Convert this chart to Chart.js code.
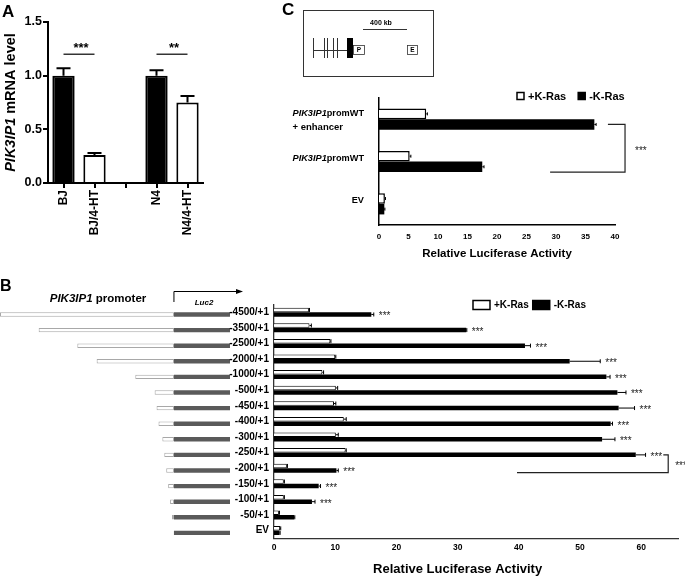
<!DOCTYPE html>
<html>
<head>
<meta charset="utf-8">
<script src="https://cdn.jsdelivr.net/npm/chart.js@4.4.0/dist/chart.umd.min.js"></script>
<style>
  body { margin: 0; background: #fff; width: 685px; height: 576px; overflow: hidden; position: relative; }
  canvas { position: absolute; left: 0; top: 0; }
</style>
</head>
<body>
<canvas id="chartA" width="685" height="576"></canvas>
<canvas id="chartC" width="685" height="576"></canvas>
<canvas id="chartSchematic" width="685" height="576"></canvas>
<canvas id="chartB" width="685" height="576"></canvas>
<script>
// ---- Panel A : PIK3IP1 mRNA level
const mrnaLabels = ['BJ', 'BJ/4-HT', '', 'N4', 'N4/4-HT'];
const mrnaValues = [1.0, 0.26, null, 1.0, 0.75];
const mrnaErrors = [0.07, 0.02, null, 0.05, 0.06];
const mrnaColors = ['#000', '#fff', '#fff', '#000', '#fff'];

// ---- Panel C : promoter + enhancer
const enhancerLabels = [['PIK3IP1promWT', '+ enhancer'], ['PIK3IP1promWT'], ['EV']];
const enhancerPlusRas = [8.0, 5.2, 1.0];
const enhancerPlusRasErr = [0.2, 0.2, 0.1];
const enhancerMinusRas = [36.5, 17.5, 0.9];
const enhancerMinusRasErr = [0.3, 0.3, 0.1];

// ---- Panel B : promoter deletions
const constructLabels = ['-4500/+1', '-3500/+1', '-2500/+1', '-2000/+1', '-1000/+1', '-500/+1', '-450/+1',
  '-400/+1', '-300/+1', '-250/+1', '-200/+1', '-150/+1', '-100/+1', '-50/+1', 'EV'];
const promoterStarts = [-4500, -3500, -2500, -2000, -1000, -500, -450, -400, -300, -250, -200, -150, -100, -50, null];
const luc2Length = 1450;
const plusRas = [5.7, 5.8, 9.2, 10.0, 7.9, 10.1, 9.8, 11.4, 10.1, 11.7, 2.1, 1.6, 1.6, 0.8, 1.0];
const plusRasErr = [0.1, 0.3, 0.1, 0.1, 0.2, 0.3, 0.3, 0.4, 0.4, 0.1, 0.1, 0.1, 0.1, 0.1, 0.1];
const minusRas = [15.9, 31.4, 41.0, 48.3, 54.3, 56.1, 56.3, 55.0, 53.6, 59.1, 10.2, 7.3, 6.2, 3.3, 0.9];
const minusRasErr = [0.4, 0.1, 0.9, 5.0, 0.6, 1.4, 2.6, 0.3, 2.1, 1.6, 0.3, 0.3, 0.5, 0.1, 0.1];
const starLabels = ['***', '***', '***', '***', '***', '***', '***', '***', '***', '***', '***', '***', '***', '', ''];

const FONT = '"Liberation Sans", Arial, Helvetica, sans-serif';
Chart.defaults.font.family = FONT;
Chart.defaults.font.weight = 'bold';
Chart.defaults.color = '#000';
Chart.defaults.animation = false;
Chart.defaults.responsive = false;
Chart.defaults.plugins.legend.display = false;
Chart.defaults.plugins.tooltip.enabled = false;

// texte avec une partie en italique (nom du gène)
function geneParts(text) {
  return text.startsWith('PIK3IP1') ? [['PIK3IP1', true], [text.slice(7), false]] : [[text, false]];
}
function drawRich(ctx, parts, x, y, align, size) {
  const fonts = parts.map(p => (p[1] ? 'italic ' : '') + 'bold ' + size + 'px ' + FONT);
  let total = 0;
  const widths = parts.map((p, i) => {
    ctx.font = fonts[i];
    const w = ctx.measureText(p[0]).width;
    total += w;
    return w;
  });
  let cx = align === 'right' ? x - total : align === 'center' ? x - total / 2 : x;
  ctx.textAlign = 'left';
  parts.forEach((p, i) => {
    ctx.font = fonts[i];
    ctx.fillText(p[0], cx, y);
    cx += widths[i];
  });
  return total;
}

// barres d'erreur (un seul côté)
const errorBars = {
  id: 'errorBars',
  afterDatasetsDraw(chart, args, opts) {
    const ctx = chart.ctx;
    const horiz = chart.options.indexAxis === 'y';
    const scale = horiz ? chart.scales.x : chart.scales.y;
    ctx.save();
    ctx.strokeStyle = '#000';
    ctx.lineWidth = opts.lineWidth || 1;
    chart.data.datasets.forEach((ds, i) => {
      if (!ds.errors) return;
      chart.getDatasetMeta(i).data.forEach((bar, j) => {
        const v = ds.data[j], e = ds.errors[j];
        if (v == null || !e) return;
        const a = scale.getPixelForValue(v), b = scale.getPixelForValue(v + e);
        const c = opts.cap / 2;
        ctx.beginPath();
        if (horiz) {
          ctx.moveTo(a, bar.y); ctx.lineTo(b, bar.y);
          ctx.moveTo(b, bar.y - c); ctx.lineTo(b, bar.y + c);
        } else {
          ctx.moveTo(bar.x, a); ctx.lineTo(bar.x, b);
          ctx.moveTo(bar.x - c, b); ctx.lineTo(bar.x + c, b);
        }
        ctx.stroke();
      });
    });
    ctx.restore();
  }
};

// légende à carrés
const boxLegend = {
  id: 'boxLegend',
  afterDraw(chart, args, o) {
    const ctx = chart.ctx;
    let x = o.x;
    ctx.save();
    ctx.font = 'bold ' + o.size + 'px ' + FONT;
    ctx.textBaseline = 'middle';
    ctx.textAlign = 'left';
    chart.data.datasets.forEach(ds => {
      ctx.fillStyle = ds.backgroundColor;
      ctx.fillRect(x, o.y - o.boxH / 2, o.boxW, o.boxH);
      ctx.strokeStyle = '#000';
      ctx.lineWidth = o.border;
      ctx.strokeRect(x, o.y - o.boxH / 2, o.boxW, o.boxH);
      x += o.boxW + o.gap;
      ctx.fillStyle = '#000';
      ctx.fillText(ds.label, x, o.y + 0.5);
      x += ctx.measureText(ds.label).width + o.spacing;
    });
    ctx.restore();
  }
};

// crochet de significativité entre deux lignes
const bracket = {
  id: 'bracket',
  afterDraw(chart, args, o) {
    const ctx = chart.ctx;
    const xs = chart.scales.x;
    const bars = chart.getDatasetMeta(1).data;
    const b1 = bars[o.rows[0]], b2 = bars[o.rows[1]];
    const y1 = b1.y, y2 = b2.y + b2.height / 2;
    const edge = xs.getPixelForValue(o.edge);
    ctx.save();
    ctx.strokeStyle = '#222';
    ctx.lineWidth = 1.2;
    ctx.beginPath();
    ctx.moveTo(xs.getPixelForValue(o.from1), y1);
    ctx.lineTo(edge, y1);
    ctx.lineTo(edge, y2);
    ctx.lineTo(xs.getPixelForValue(o.from2), y2);
    ctx.stroke();
    ctx.fillStyle = '#222';
    ctx.font = o.size + 'px ' + FONT;
    ctx.textAlign = 'left';
    ctx.textBaseline = 'alphabetic';
    ctx.fillText('***', edge + o.textGap, (y1 + y2) / 2 + o.size * 0.55);
    ctx.restore();
  }
};

// ================= Panel A
new Chart(document.getElementById('chartA'), {
  type: 'bar',
  data: {
    labels: mrnaLabels,
    datasets: [{
      data: mrnaValues,
      errors: mrnaErrors,
      backgroundColor: mrnaColors,
      borderColor: '#000',
      borderWidth: 2,
      barPercentage: 0.72,
      categoryPercentage: 1
    }]
  },
  options: {
    layout: { padding: { left: 8, top: 22, right: 482, bottom: 333 } },
    plugins: { errorBars: { lineWidth: 2, cap: 14 } },
    scales: {
      x: {
        grid: { display: true, drawOnChartArea: false, offset: false, tickLength: 5, color: '#000', lineWidth: 2 },
        border: { color: '#000', width: 2 },
        ticks: { minRotation: 90, maxRotation: 90, padding: 2, font: { size: 12, weight: 'bold' } },
        afterFit: s => { s.height = 60; }
      },
      y: {
        min: 0, max: 1.5,
        grid: { display: true, drawOnChartArea: false, tickLength: 5, color: '#000', lineWidth: 2 },
        border: { color: '#000', width: 2 },
        ticks: { stepSize: 0.5, padding: 1, callback: v => v.toFixed(1), font: { size: 12.5, weight: 'bold' } },
        afterFit: s => { s.width = 40; }
      }
    }
  },
  plugins: [errorBars, {
    id: 'panelA',
    afterDraw(chart) {
      const ctx = chart.ctx;
      const xs = chart.scales.x, ys = chart.scales.y;
      ctx.save();
      ctx.fillStyle = '#000';
      ctx.font = 'bold 17px ' + FONT;
      ctx.textBaseline = 'alphabetic';
      ctx.fillText('A', 2, 17);
      // titre de l'axe y
      ctx.translate(15, (ys.top + ys.bottom) / 2);
      ctx.rotate(-Math.PI / 2);
      ctx.textBaseline = 'alphabetic';
      drawRich(ctx, [['PIK3IP1', true], [' mRNA level', false]], 0, 0, 'center', 14.5);
      ctx.restore();
      // comparaisons
      ctx.save();
      ctx.strokeStyle = '#000';
      ctx.lineWidth = 1.2;
      ctx.fillStyle = '#000';
      ctx.font = 'bold 13px ' + FONT;
      ctx.textAlign = 'center';
      [[0, 1, '***'], [3, 4, '**']].forEach(([i, j, t]) => {
        const y = ys.getPixelForValue(1.2);
        ctx.beginPath();
        ctx.moveTo(xs.getPixelForValue(i), y);
        ctx.lineTo(xs.getPixelForValue(j), y);
        ctx.stroke();
        ctx.fillText(t, (xs.getPixelForValue(i) + xs.getPixelForValue(j)) / 2 + 2, y - 2);
      });
      ctx.restore();
    }
  }]
});

// ================= Panel C
new Chart(document.getElementById('chartC'), {
  type: 'bar',
  data: {
    labels: enhancerLabels,
    datasets: [
      { label: '+K-Ras', data: enhancerPlusRas, errors: enhancerPlusRasErr, backgroundColor: '#fff', borderColor: '#000', borderWidth: 1.5 },
      { label: '-K-Ras', data: enhancerMinusRas, errors: enhancerMinusRasErr, backgroundColor: '#000', borderColor: '#000', borderWidth: 0 }
    ]
  },
  options: {
    indexAxis: 'y',
    layout: { padding: { left: 379, top: 98, right: 70, bottom: 315 } },
    datasets: { bar: { categoryPercentage: 0.5, barPercentage: 1 } },
    plugins: {
      errorBars: { lineWidth: 1, cap: 3 },
      boxLegend: { x: 517, y: 96, size: 11, boxW: 7, boxH: 7, border: 1.5, gap: 4, spacing: 12 },
      bracket: { rows: [0, 1], from1: 38.8, from2: 29, edge: 41.7, textGap: 10, size: 10 }
    },
    scales: {
      x: {
        min: 0, max: 40,
        grid: { display: false, drawTicks: false },
        border: { color: '#000', width: 1.5 },
        ticks: { stepSize: 5, padding: 7, font: { size: 8, weight: 'bold' } },
        title: { display: true, text: 'Relative Luciferase Activity', font: { size: 11.5, weight: 'bold' }, padding: { top: 0, bottom: 0 } },
        afterFit: s => { s.height = 36; }
      },
      y: {
        grid: { display: false, drawTicks: false },
        border: { color: '#000', width: 1.5 },
        ticks: { display: false },
        afterFit: s => { s.width = 0; }
      }
    }
  },
  plugins: [errorBars, boxLegend, bracket, {
    id: 'panelC',
    afterDraw(chart) {
      const ctx = chart.ctx;
      const ys = chart.scales.y;
      ctx.save();
      ctx.fillStyle = '#000';
      ctx.font = 'bold 17px ' + FONT;
      ctx.textBaseline = 'alphabetic';
      ctx.fillText('C', 282, 15);
      // étiquettes des catégories
      ctx.textBaseline = 'middle';
      chart.data.labels.forEach((lines, i) => {
        const yc = ys.getPixelForValue(i);
        if (lines.length === 2) {
          const w = drawRich(ctx, geneParts(lines[0]), 364, yc - 6, 'right', 9.2);
          drawRich(ctx, geneParts(lines[1]), 364 - w, yc + 8, 'left', 9.5);
        } else {
          drawRich(ctx, geneParts(lines[0]), 364, yc - 3, 'right', 9.2);
        }
      });
      // schéma du locus
      ctx.strokeStyle = '#333';
      ctx.lineWidth = 1;
      ctx.strokeRect(303.5, 10.5, 130, 66);
      ctx.font = 'bold 7px ' + FONT;
      ctx.textAlign = 'center';
      ctx.fillText('400 kb', 381, 23);
      ctx.beginPath();
      ctx.moveTo(363, 29.5); ctx.lineTo(407, 29.5);
      ctx.moveTo(313, 50.5); ctx.lineTo(347, 50.5);
      [313.5, 324.5, 327.5, 333.5, 337.5].forEach(x => { ctx.moveTo(x, 38); ctx.lineTo(x, 58); });
      ctx.stroke();
      ctx.fillRect(347, 38, 6, 20);
      ctx.lineWidth = 0.8;
      ctx.strokeRect(353.5, 45.5, 11, 9);
      ctx.strokeRect(407.5, 45.5, 10, 9);
      ctx.font = 'bold 6.5px ' + FONT;
      ctx.fillText('P', 359, 50.5);
      ctx.fillText('E', 412.5, 50.5);
      ctx.restore();
    }
  }]
});

// ================= Panel B : schéma des constructions
new Chart(document.getElementById('chartSchematic'), {
  type: 'bar',
  data: {
    labels: constructLabels,
    datasets: [
      { label: 'promoter', data: promoterStarts.map(s => (s == null ? null : [s, 0])), backgroundColor: '#fff', borderColor: '#a8a8a8', borderWidth: 1, borderSkipped: false },
      { label: 'Luc2', data: constructLabels.map(() => [0, luc2Length]), backgroundColor: '#5a5a5a', borderWidth: 0 }
    ]
  },
  options: {
    indexAxis: 'y',
    layout: { padding: { left: 0, right: 455, top: 306.7, bottom: 35.3 } },
    datasets: { bar: { grouped: false, categoryPercentage: 1, barPercentage: 0.28 } },
    scales: {
      x: { display: false, min: -4500, max: luc2Length },
      y: { display: false }
    }
  },
  plugins: [{
    id: 'schematicText',
    afterDraw(chart) {
      const ctx = chart.ctx;
      const xs = chart.scales.x;
      const x0 = xs.getPixelForValue(0);
      ctx.save();
      ctx.fillStyle = '#000';
      ctx.font = 'bold 16px ' + FONT;
      ctx.textBaseline = 'alphabetic';
      ctx.fillText('B', 0, 291);
      ctx.textBaseline = 'middle';
      drawRich(ctx, [['PIK3IP1', true], [' promoter', false]], 98, 299, 'center', 11.5);
      ctx.strokeStyle = '#000';
      ctx.lineWidth = 1;
      ctx.beginPath();
      ctx.moveTo(x0, 302); ctx.lineTo(x0, 291.5); ctx.lineTo(238, 291.5);
      ctx.stroke();
      ctx.beginPath();
      ctx.moveTo(243, 291.5); ctx.lineTo(236, 289); ctx.lineTo(236, 294); ctx.closePath();
      ctx.fill();
      drawRich(ctx, [['Luc2', true]], 204, 303, 'center', 8);
      ctx.restore();
    }
  }]
});

// ================= Panel B : activité luciférase
new Chart(document.getElementById('chartB'), {
  type: 'bar',
  data: {
    labels: constructLabels,
    datasets: [
      { label: '+K-Ras', data: plusRas, errors: plusRasErr, backgroundColor: '#fff', borderColor: '#000', borderWidth: 1 },
      { label: '-K-Ras', data: minusRas, errors: minusRasErr, backgroundColor: '#000', borderColor: '#000', borderWidth: 0 }
    ]
  },
  options: {
    indexAxis: 'y',
    layout: { padding: { left: 214, top: 304.4, right: 7, bottom: 17.6 } },
    datasets: { bar: { categoryPercentage: 0.58, barPercentage: 1 } },
    plugins: {
      errorBars: { lineWidth: 1, cap: 4 },
      boxLegend: { x: 473, y: 305, size: 10, boxW: 17, boxH: 9, border: 1.5, gap: 4, spacing: 4 },
      bracket: { rows: [9, 10], from1: 63.6, from2: 39.7, edge: 64.4, textGap: 7, size: 10 }
    },
    scales: {
      x: {
        min: 0, max: 66,
        grid: { display: false, drawTicks: false },
        border: { color: '#333', width: 1.3 },
        ticks: { stepSize: 10, padding: 4.5, font: { size: 8.5, weight: 'bold' } },
        afterBuildTicks: s => { s.ticks = s.ticks.filter(t => t.value % 10 === 0); },
        afterFit: s => { s.height = 20; }
      },
      y: {
        grid: { display: false, drawTicks: false },
        border: { color: '#333', width: 1.3 },
        ticks: { padding: 5, font: { size: 10, weight: 'bold' } },
        afterFit: s => { s.width = 60; }
      }
    }
  },
  plugins: [errorBars, boxLegend, bracket, {
    id: 'panelB',
    afterDraw(chart) {
      const ctx = chart.ctx;
      const xs = chart.scales.x;
      const ds = chart.data.datasets[1];
      const bars = chart.getDatasetMeta(1).data;
      ctx.save();
      ctx.fillStyle = '#222';
      ctx.font = '10px ' + FONT;
      ctx.textAlign = 'left';
      ctx.textBaseline = 'alphabetic';
      bars.forEach((bar, i) => {
        if (!starLabels[i]) return;
        const end = xs.getPixelForValue(ds.data[i] + ds.errors[i]);
        ctx.fillText(starLabels[i], end + 5, bar.y + 5);
      });
      ctx.fillStyle = '#000';
      ctx.font = 'bold 13px ' + FONT;
      ctx.textAlign = 'center';
      ctx.textBaseline = 'middle';
      ctx.fillText('Relative Luciferase Activity', xs.getPixelForValue(30), 569);
      ctx.restore();
    }
  }]
});
</script>
</body>
</html>
